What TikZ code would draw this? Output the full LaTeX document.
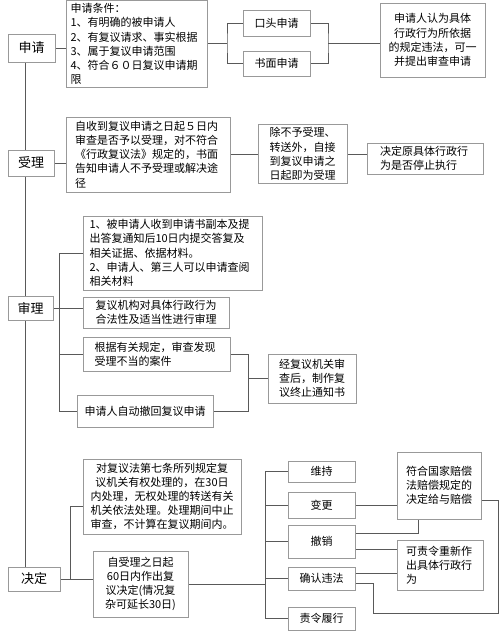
\documentclass[tikz,border=0pt]{standalone}
\usepackage{fontspec}
\newfontfamily\cjk{Noto Sans CJK SC}
\usetikzlibrary{backgrounds}

\tikzset{
  stage/.style={draw=gray!80, fill=white, font=\cjk\fontsize{13}{15}\selectfont, inner sep=2pt},
  box/.style={draw=gray!80, fill=white, font=\cjk\fontsize{11}{14.2}\selectfont, inner sep=3pt},
  link/.style={draw=black!65, line width=0.8pt}
}

\begin{document}
\begin{tikzpicture}[x=1pt, y=-1pt]
			\useasboundingbox (0,0) rectangle (500,634);
			
			\node[stage, minimum width=47pt, minimum height=28pt] (shenqing) at (31.5,48) {申请};
			\node[box, minimum width=141pt, minimum height=84pt, text width=132pt, align=left] (tiaojian) at (136.5,44)
				{申请条件：\\1、有明确的被申请人\\2、有复议请求、事实根据\\3、属于复议申请范围\\4、符合６０日复议申请期\\限};
			\node[box, minimum width=67pt, minimum height=26pt] (koutou) at (276.5,23) {口头申请};
			\node[box, minimum width=67pt, minimum height=25pt] (shumian) at (276.5,63.5) {书面申请};
			\node[box, minimum width=105pt, minimum height=74pt, align=center] (shencha) at (432.5,40)
				{申请人认为具体\\行政行为所依据\\的规定违法，可一\\并提出审查申请};
			
			\node[stage, minimum width=46pt, minimum height=26pt] (shouli) at (31,163) {受理};
			\node[box, minimum width=164pt, minimum height=75pt, text width=146pt, align=left] (shouli1) at (148,154.5)
				{自收到复议申请之日起５日内\\审查是否予以受理，对不符合\\《行政复议法》规定的，书面\\告知申请人不予受理或解决途\\径};
			\node[box, minimum width=89pt, minimum height=56pt, align=center] (shouli2) at (302.5,154)
				{除不予受理、\\转送外，自接\\到复议申请之\\日起即为受理};
			\node[box, minimum width=116pt, minimum height=31pt, text width=90pt, align=left] (tingzhi) at (425,158.5)
				{决定原具体行政行\\为是否停止执行};
			
			\node[stage, minimum width=45pt, minimum height=24pt] (shenli) at (30.5,308) {审理};
			\node[box, minimum width=179pt, minimum height=74pt, text width=166pt, align=left] (shenli1) at (172.5,253)
				{1、被申请人收到申请书副本及提\\出答复通知后10日内提交答复及\\相关证据、依据材料。\\2、申请人、第三人可以申请查阅\\相关材料};
			\node[box, minimum width=146pt, minimum height=31pt, align=center] (shenli2) at (156,312.5)
				{复议机构对具体行政行为\\合法性及适当性进行审理};
			\node[box, minimum width=147pt, minimum height=34pt, text width=124pt, align=left] (shenli3) at (156.5,354)
				{根据有关规定，审查发现\\受理不当的案件};
			\node[box, minimum width=136pt, minimum height=32pt] (shenli4) at (145,411) {申请人自动撤回复议申请};
			\node[box, minimum width=88pt, minimum height=49pt, align=center] (zhongzhi) at (312,378.5)
				{经复议机关审\\查后，制作复\\议终止通知书};
			
			\node[stage, minimum width=52pt, minimum height=24pt] (jueding) at (34,579) {决定};
			\node[box, minimum width=158pt, minimum height=75pt, align=center] (jueding1) at (162,496.5)
				{对复议法第七条所列规定复\\议机关有权处理的，在30日\\内处理，无权处理的转送有关\\机关依法处理。处理期间中止\\审查，不计算在复议期间内。};
			\node[box, minimum width=95pt, minimum height=66pt, align=center] (jueding2) at (140.5,584)
				{自受理之日起\\60日内作出复\\议决定(情况复\\杂可延长30日)};
			\node[box, minimum width=67pt, minimum height=21pt] (weichi) at (321.5,471.5) {维持};
			\node[box, minimum width=67pt, minimum height=26pt] (biangeng) at (321.5,505) {变更};
			\node[box, minimum width=67pt, minimum height=33pt] (chexiao) at (321.5,541.5) {撤销};
			\node[box, minimum width=67pt, minimum height=23pt] (queren) at (321.5,578.5) {确认违法};
			\node[box, minimum width=67pt, minimum height=23pt] (lvxing) at (321.5,618.5) {责令履行};
			\node[box, minimum width=84pt, minimum height=67pt, align=center] (peichang) at (439,485.5)
				{符合国家赔偿\\法赔偿规定的\\决定给与赔偿};
			\node[box, minimum width=86pt, minimum height=50pt, text width=68pt, align=left] (chongzuo) at (440,565)
				{可责令重新作\\出具体行政行\\为};
			
			\coordinate (b1) at (227,43);
			\coordinate (b2) at (328,43);
			\coordinate (b3) at (59,0);
			\coordinate (b4) at (248,0);
			\coordinate (b5) at (70,0);
			\coordinate (b6) at (265,0);
			\coordinate (b7) at (498,613);
			
			\begin{pgfonlayer}{background}
			\draw[link] ([xshift=-6.5pt]shenqing.south) -- ([xshift=-9pt]jueding.north);
			
			\draw[link] (shenqing.east) -- (shenqing.east -| tiaojian.west);
			\draw[link] (tiaojian.east |- b1) -- (b1);
			\draw[link] (koutou.west) -| (b1) |- (shumian.west);
			\draw[link] (koutou.east) -| (b2) |- (shumian.east);
			\draw[link] (b2) -- (b2 -| shencha.west);
			
			\draw[link] (shouli.east) -- (shouli.east -| shouli1.west);
			\draw[link] (shouli1.east) -- (shouli1.east -| shouli2.west);
			\draw[link] (shouli2.east) -- (shouli2.east -| tingzhi.west);
			
			\draw[link] (shenli.east) -- (shenli.east -| shenli2.west);
			\draw[link] (shenli1.west) -| (b3 |- shenli4.west) -- (shenli4.west);
			\draw[link] (shenli3.west) -- (shenli3.west -| b3);
			\draw[link] (shenli3.east) -| (b4 |- shenli4.east) -- (shenli4.east);
			\draw[link] (b4 |- zhongzhi.west) -- (zhongzhi.west);
			
			\draw[link] (jueding.east) -- (jueding.east -| jueding2.west);
			\draw[link] (b5 |- jueding.east) |- ([yshift=-10pt]jueding1.west);
			\draw[link] (jueding2.east) -- (jueding2.east -| b6);
			\draw[link] (weichi.west) -| (b6 |- lvxing.west) -- (lvxing.west);
			\foreach \n in {biangeng, chexiao, queren}
				\draw[link] (\n.west) -- (\n.west -| b6);
			
			\draw[link] (biangeng.east) -- (biangeng.east -| peichang.west);
			\draw[link] ([yshift=8pt]chexiao.east) -| ([xshift=-21pt]peichang.south);
			\draw[link] ([yshift=-8pt]chexiao.east) -- ([yshift=-8pt]chexiao.east -| chongzuo.west);
			\draw[link] ([yshift=5pt]queren.east) -- ([yshift=5pt]queren.east -| chongzuo.west);
			\draw[link] ([yshift=-5pt]queren.east) -| ([xshift=18pt]queren.east |- b7) -- (b7) |- ([yshift=-15pt]peichang.east);
			\end{pgfonlayer}
		\end{tikzpicture}
\end{document}
